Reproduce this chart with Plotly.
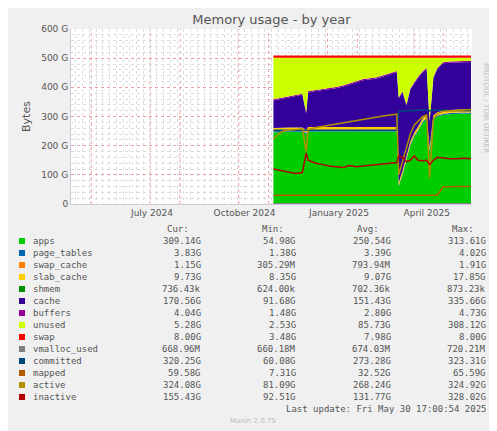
import plotly.graph_objects as go

dates = ["2024-11-06","2024-11-11","2024-11-16","2024-11-22","2024-11-29","2024-12-06","2024-12-10","2024-12-12",
         "2024-12-20","2024-12-27","2025-01-03","2025-01-10","2025-01-17","2025-01-24","2025-01-31","2025-02-07",
         "2025-02-14","2025-02-21","2025-02-28","2025-03-07","2025-03-14","2025-03-16","2025-03-20","2025-03-24",
         "2025-03-28","2025-04-01","2025-04-05","2025-04-10","2025-04-14","2025-04-17","2025-04-21","2025-04-25",
         "2025-05-01","2025-05-08","2025-05-15","2025-05-22","2025-05-30"]
apps = [246,247,248,248,248,248,240,249,249,249,249,249,249,249,249,249,249,249,249,249,249,
        60,100,150,200,230,250,280,290,180,290,300,305,308,310,310,309]
page_tables = [3.8]*37
swap_cache = [1.2]*37
slab_cache = [9.7]*37
shmem = [0.0007]*37
buffers = [4.0]*37
stack_top = [363,366,370,372,378,382,318,390,395,398,400,405,410,418,425,432,435,438,445,452,460,
             370,390,345,400,420,440,460,470,290,440,470,490,492,493,495,495]
total_ram = 505
swap = [8.0]*37
cache = [t - a - 22.5 for t, a in zip(stack_top, apps)]
unused = [total_ram - t for t in stack_top]
vmalloc_used = [0.67]*37
committed = [253]*21 + [318,319,320,320,321,321,322,322,320,321,322,322,321,321,320,320]
mapped = [30]*32 + [58,60,60,60,59.6]
active = [222,240,250,252,255,258,180,255,262,266,270,274,278,283,288,292,295,298,302,305,308,
          100,150,200,240,270,285,300,305,90,290,310,318,320,322,324,324]
inactive = [120,117,112,110,105,108,175,150,140,135,130,128,125,132,128,130,133,135,138,140,142,
            165,160,145,150,165,150,148,150,135,150,160,158,155,155,157,155]
month_ticks = ["2024-07-03","2024-10-07","2025-01-13","2025-04-14"]
month_labels = ["July 2024","October 2024","January 2025","April 2025"]

legend_rows = [
    ("apps","#00CC00","309.14G","54.98G","250.54G","313.61G"),
    ("page_tables","#0066B3","3.83G","1.38G","3.39G","4.02G"),
    ("swap_cache","#FF8000","1.15G","305.29M","793.94M","1.91G"),
    ("slab_cache","#FFCC00","9.73G","8.35G","9.07G","17.85G"),
    ("shmem","#008F00","736.43k","624.00k","702.36k","873.23k"),
    ("cache","#330099","170.56G","91.68G","151.43G","335.66G"),
    ("buffers","#990099","4.04G","1.48G","2.80G","4.73G"),
    ("unused","#CCFF00","5.28G","2.53G","85.73G","308.12G"),
    ("swap","#FF0000","8.00G","3.48G","7.98G","8.00G"),
    ("vmalloc_used","#808080","668.96M","660.18M","674.03M","720.21M"),
    ("committed","#00487D","320.25G","60.08G","273.28G","323.31G"),
    ("mapped","#B35A00","59.58G","7.31G","32.52G","65.59G"),
    ("active","#B38F00","324.08G","81.09G","268.24G","324.92G"),
    ("inactive","#B30000","155.43G","92.51G","131.77G","328.02G"),
]
colors = {r[0]: r[1] for r in legend_rows}

fig = go.Figure()
for name, vals in [("apps",apps),("page_tables",page_tables),("swap_cache",swap_cache),("slab_cache",slab_cache),
                   ("shmem",shmem),("cache",cache),("buffers",buffers),("unused",unused),("swap",swap)]:
    fig.add_trace(go.Scatter(x=dates, y=vals, name=name, stackgroup="s", mode="lines",
                             line=dict(width=0), fillcolor=colors[name]))
for name, vals in [("vmalloc_used",vmalloc_used),("committed",committed),("mapped",mapped),
                   ("active",active),("inactive",inactive)]:
    fig.add_trace(go.Scatter(x=dates, y=vals, name=name, mode="lines",
                             line=dict(width=1.5, color=colors[name])))

OFFX, OFFY = 3, 7
FW, FH = 497 - OFFX, 431 - OFFY
L, T, W, H = 66 - OFFX, 28 - OFFY, 401, 175
def px(x): return (x - OFFX - L) / W
def py(y): return (T + H - (y - OFFY)) / H

ann = []
mono = dict(family="DejaVu Sans Mono", size=9, color="#555")
cols = [198, 293, 388, 483]
for lab, xr in zip(["Cur:","Min:","Avg:","Max:"], [186, 281, 376, 471]):
    ann.append(dict(x=px(xr), y=py(228), text=lab, xanchor="right"))
for i, (n, c, cur, mn, av, mx) in enumerate(legend_rows):
    y = 240 + i * 12
    ann.append(dict(x=px(26), y=py(y), text=n, xanchor="left"))
    for v, xr in zip([cur, mn, av, mx], cols):
        ann.append(dict(x=px(xr), y=py(y), text=v, xanchor="right"))
shapes = []
for i, r in enumerate(legend_rows):
    y = 240 + i * 12
    shapes.append(dict(type="rect", xref="paper", yref="paper", x0=px(14), x1=px(20), y0=py(y+3), y1=py(y-3),
                       fillcolor=r[1], line=dict(width=0)))
ann.append(dict(x=px(483), y=py(408), text="Last update: Fri May 30 17:00:54 2025", xanchor="right"))
annots = [dict(a, xref="paper", yref="paper", yanchor="middle", showarrow=False, font=mono) for a in ann]
annots.append(dict(x=px(248), y=py(420), xref="paper", yref="paper", yanchor="middle", text="Munin 2.0.75",
                   showarrow=False, font=dict(family="DejaVu Sans", size=7, color="#bbb")))
annots.append(dict(x=px(487), y=py(60), xref="paper", yref="paper", text="RRDTOOL / TOBI OETIKER", textangle=90,
                   showarrow=False, font=dict(family="DejaVu Sans", size=7, color="#bbb")))

fig.update_layout(
    width=FW, height=FH, margin=dict(l=L, r=FW-L-W, t=T, b=FH-T-H),
    paper_bgcolor="#F0F0F0", plot_bgcolor="white", showlegend=False,
    title=dict(text="Memory usage - by year", x=0.5, xref="paper", y=(FH-(18-OFFY))/FH, yanchor="middle",
               font=dict(family="DejaVu Sans", size=13, color="#555")),
    font=dict(family="DejaVu Sans", size=9, color="#555"),
    xaxis=dict(range=["2024-04-10","2025-05-31"], tickvals=month_ticks, ticktext=month_labels,
               ticks="", automargin=False,
               tickfont=dict(size=9), showgrid=False, zeroline=False, showline=True, linecolor="#ccd",
               minor=dict(dtick=7*86400000, showgrid=True, gridcolor="#ddd", griddash="dot", tick0="2024-04-08")),
    yaxis=dict(range=[0,600], tickvals=[0,100,200,300,400,500,600], automargin=False,
               ticktext=["0","100 G","200 G","300 G","400 G","500 G","600 G"],
               gridcolor="#E8A0A0", griddash="dot", zeroline=False, showline=True, linecolor="#ccd",
               title=dict(text="Bytes", font=dict(size=11), standoff=8),
               minor=dict(dtick=20, showgrid=True, gridcolor="#ddd", griddash="dot")),
    annotations=annots, shapes=shapes,
)
for d in ["2024-05-01","2024-07-01","2024-08-01","2024-10-01","2024-11-01","2025-01-01","2025-02-01","2025-04-01","2025-05-01"]:
    fig.add_vline(x=d, line=dict(color="#E8A0A0", width=1, dash="dot"), layer="below")
fig.write_html("out.html")
